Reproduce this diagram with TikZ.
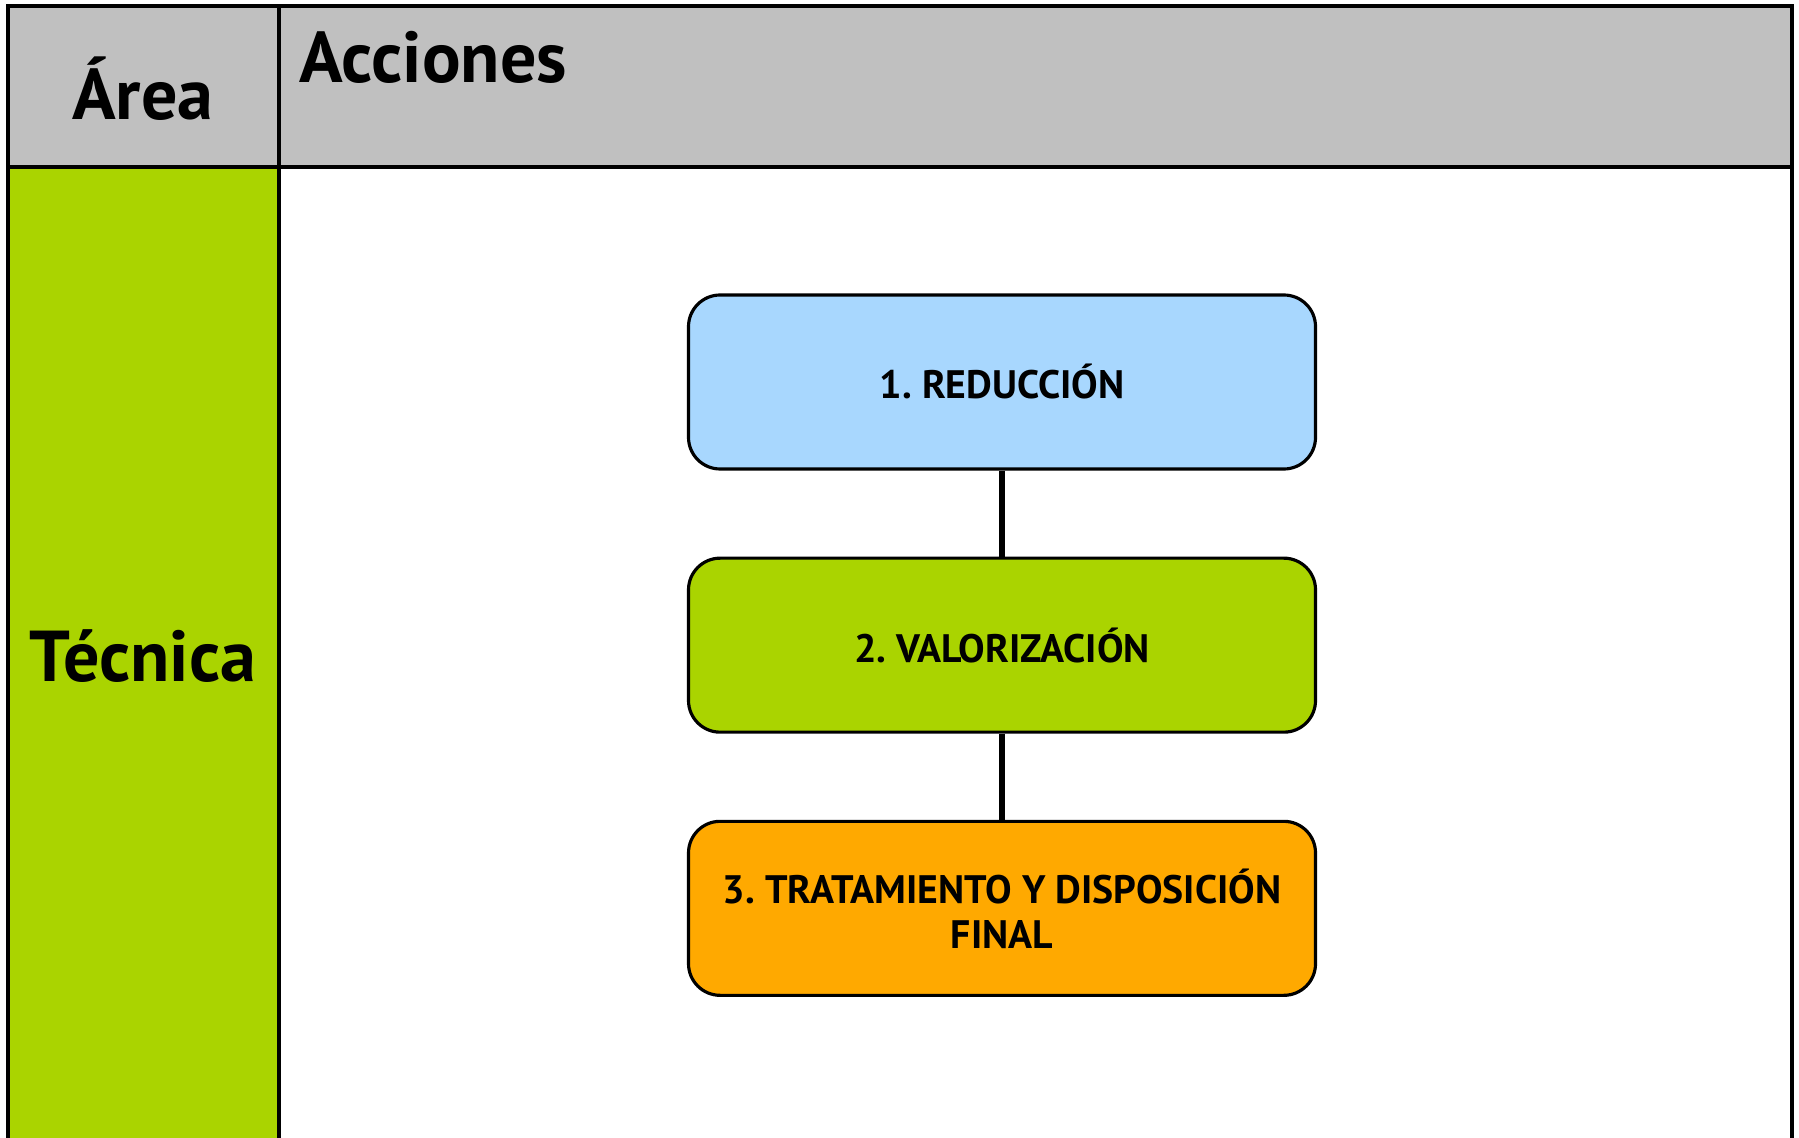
\documentclass[tikz,border=0pt]{standalone}
\usepackage{fontspec}
\setmainfont{PT Sans}
\usetikzlibrary{positioning}
\definecolor{cabecera}{HTML}{C0C0C0}
\definecolor{verde}{HTML}{AAD400}
\definecolor{celeste}{HTML}{A8D7FE}
\definecolor{naranja}{HTML}{FFA900}
\tikzset{
  etapa/.style={draw, line width=0.9pt, rounded corners=9pt, minimum width=6.27cm,
    minimum height=1.74cm, align=center, font=\bfseries\fontsize{11.3}{12.8}\selectfont},
  titulo/.style={font=\bfseries\fontsize{20.5}{24}\selectfont}
}
\frenchspacing
\begin{document}
\begin{tikzpicture}
            \useasboundingbox (0,0) rectangle (17.99,-11.38);
            \fill[cabecera] (0.08,-0.06) rectangle (17.92,-1.67);
            \fill[verde] (0.08,-1.67) rectangle (2.79,-11.40);
            \draw[line width=1pt] (0.08,-11.40) -- (0.08,-0.06) -- (17.92,-0.06) -- (17.92,-11.40);
            \draw[line width=1pt] (0.08,-1.67) -- (17.92,-1.67);
            \draw[line width=1pt] (2.79,-0.06) -- (2.79,-11.40);
            \node[titulo] (area) at (1.43,-0.89) {Área};
            \node[titulo, anchor=west] (acciones) at (2.87,-0.57) {Acciones};
            \node[titulo] (tecnica) at (1.43,-6.56) {Técnica};
            % etapas
            \node[etapa, fill=celeste] (reduccion) at (10.02,-3.82) {1. REDUCCIÓN};
            \node[etapa, fill=verde, below=0.86cm of reduccion] (valorizacion) {2. VALORIZACIÓN};
            \node[etapa, fill=naranja, below=0.86cm of valorizacion] (tratamiento) {3. TRATAMIENTO Y DISPOSICIÓN\\FINAL};
            \draw[line width=1.6pt] (reduccion) -- (valorizacion);
            \draw[line width=1.6pt] (valorizacion) -- (tratamiento);
        \end{tikzpicture}
\end{document}
